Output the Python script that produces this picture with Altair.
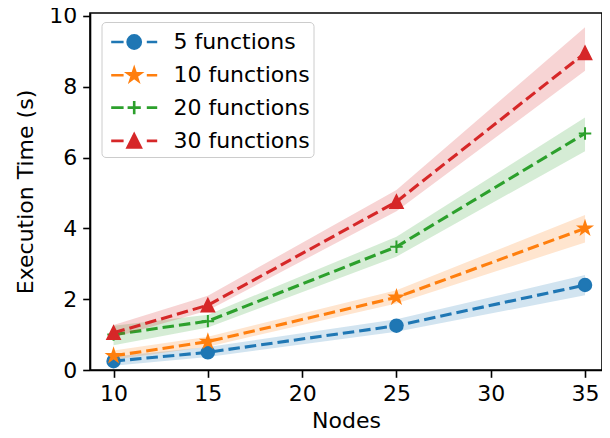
import math
import altair as alt
import pandas as pd

# ---------------- data ----------------
nodes = [10, 15, 25, 35]
series_names = ["5 functions", "10 functions", "20 functions", "30 functions"]

t_5 = [0.25, 0.50, 1.25, 2.40]
t_10 = [0.40, 0.80, 2.05, 4.00]
t_20 = [1.00, 1.38, 3.48, 6.68]
t_30 = [1.05, 1.83, 4.75, 8.95]

lo_5 = [0.12, 0.37, 1.08, 2.11]
hi_5 = [0.38, 0.65, 1.43, 2.68]
lo_10 = [0.30, 0.66, 1.88, 3.60]
hi_10 = [0.55, 0.94, 2.25, 4.38]
lo_20 = [0.70, 1.20, 3.20, 6.18]
hi_20 = [1.25, 1.56, 3.76, 7.13]
lo_30 = [0.92, 1.68, 4.48, 8.45]
hi_30 = [1.27, 2.10, 5.08, 9.68]

x_ticks = [10, 15, 20, 25, 30, 35]
y_ticks = [0, 2, 4, 6, 8, 10]

colors = ["#1f77b4", "#ff7f0e", "#2ca02c", "#d62728"]

means = [t_5, t_10, t_20, t_30]
lows = [lo_5, lo_10, lo_20, lo_30]
highs = [hi_5, hi_10, hi_20, hi_30]

rows = []
for name, m, lo, hi in zip(series_names, means, lows, highs):
    for n, v, a, b in zip(nodes, m, lo, hi):
        rows.append({"series": name, "nodes": n, "time": v, "lo": a, "hi": b})
df = pd.DataFrame(rows)

legend_df = pd.DataFrame({"series": series_names,
                          "nodes": [float("nan")] * 4,
                          "time": [float("nan")] * 4})


# ---------------- marker paths (style) ----------------
def fmt(v):
    s = f"{v:.4f}".rstrip("0").rstrip(".")
    return "0" if s in ("-0", "") else s


def circle_path(k=1.0):
    r = k
    return (f"M{fmt(r)},0A{fmt(r)},{fmt(r)} 0 1,1 {fmt(-r)},0"
            f"A{fmt(r)},{fmt(r)} 0 1,1 {fmt(r)},0Z")


def star_path(k=1.0):
    pts = []
    for i in range(10):
        ang = math.radians(-90 + 36 * i)
        rad = k if i % 2 == 0 else k * 0.381966
        pts.append((rad * math.cos(ang), rad * math.sin(ang)))
    return "M" + "L".join(f"{fmt(x)},{fmt(y)}" for x, y in pts) + "Z"


def plus_path(k=1.0):
    return f"M{fmt(-k)},0L{fmt(k)},0M0,{fmt(-k)}L0,{fmt(k)}"


def tri_path(k=1.0):
    return f"M0,{fmt(-k)}L{fmt(-k)},{fmt(k)}L{fmt(k)},{fmt(k)}Z"


marker_fns = [circle_path, star_path, plus_path, tri_path]

# legend symbol: unit = 15 px (symbolSize 900); span +-23 px
LEG_SIZE = 900
U = math.sqrt(LEG_SIZE) / 2
half = 23 / U
dash_part = (f"M{fmt(-half)},0L{fmt(-10.6 / U)},0"
             f"M{fmt(12.6 / U)},0L{fmt(half)},0")
legend_paths = [dash_part + fn(6.6 / U) for fn in marker_fns]

FONT = "DejaVu Sans"
FS = 22

x_enc = alt.X("nodes:Q", title="Nodes",
              scale=alt.Scale(domain=[8.75, 35.9], nice=False, zero=False),
              axis=alt.Axis(values=x_ticks, format="d", labelPadding=6,
                            titlePadding=6))
y_enc = alt.Y("time:Q", title="Execution Time (s)",
              scale=alt.Scale(domain=[0, 10.08], nice=False, zero=False),
              axis=alt.Axis(values=y_ticks, format="d", labelPadding=6,
                            titlePadding=11))

base = alt.Chart(df)

layers = []
for name, c, fn in zip(series_names, colors, marker_fns):
    sub = base.transform_filter(alt.datum.series == name)
    layers.append(
        sub.mark_area(opacity=0.2, color=c).encode(
            x=x_enc, y=alt.Y("lo:Q"), y2="hi:Q")
    )
    layers.append(
        sub.mark_line(color=c, strokeWidth=3.1, strokeDash=[11.5, 5]).encode(
            x=x_enc, y=y_enc)
    )
    layers.append(
        sub.mark_point(shape=fn(1.0), filled=True, fill=c, stroke=c,
                       strokeWidth=2, size=156, opacity=1)
        .encode(x=x_enc, y=y_enc)
    )

color_scale = alt.Scale(domain=series_names, range=colors)
leg = alt.Legend(title=None, orient="none", legendX=11.5, legendY=9,
                 labelExpr="datum.label + '\u00a0'")
legend_layer = alt.Chart(legend_df).mark_point(
    filled=True, opacity=1, strokeWidth=2.6
).encode(
    x=x_enc,
    y=y_enc,
    color=alt.Color("series:N", scale=color_scale, legend=leg),
    stroke=alt.Stroke("series:N", scale=color_scale, legend=leg),
    shape=alt.Shape("series:N",
                    scale=alt.Scale(domain=series_names, range=legend_paths),
                    legend=leg),
)

chart = alt.layer(*layers, legend_layer).properties(
    width=512,
    height=357,
    autosize=alt.AutoSizeParams(type="none"),
    padding={"left": 82, "top": 5, "right": 0, "bottom": 60},
).configure_view(
    stroke="black", strokeWidth=1.6
).configure_axis(
    grid=False,
    domainColor="black", domainWidth=1.6,
    tickColor="black", tickWidth=1.6, tickSize=7.3,
    labelFont=FONT, labelFontSize=FS, labelColor="black",
    titleFont=FONT, titleFontSize=FS, titleColor="black",
    titleFontWeight="normal", labelFlush=False,
).configure_legend(
    padding=3.5, cornerRadius=4, strokeColor="#cccccc",
    fillColor="rgba(255,255,255,0.8)",
    labelFont=FONT, labelFontSize=FS, labelColor="black",
    symbolSize=LEG_SIZE, symbolStrokeWidth=2.6, symbolOffset=12.7,
    labelOffset=22.7, rowPadding=4.3,
)

chart.save("out.html", embed_options={"renderer": "svg", "actions": False})
